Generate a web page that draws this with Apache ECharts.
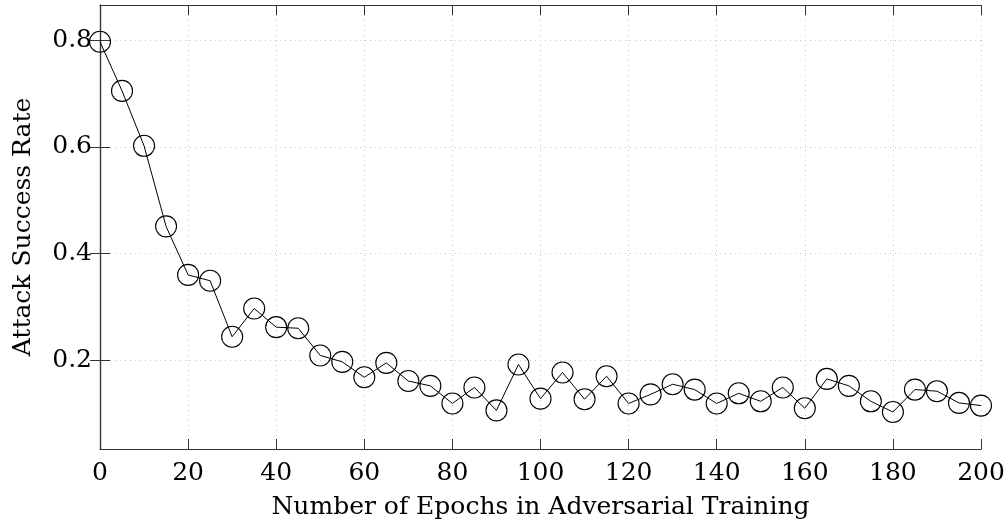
<!DOCTYPE html>
<html>
<head>
<meta charset="utf-8">
<script src="https://cdn.jsdelivr.net/npm/echarts@6/dist/echarts.min.js"></script>
<style>
  html, body { margin: 0; padding: 0; background: #fff; }
  #chart { width: 1008px; height: 522px; }
</style>
</head>
<body>
<div id="chart"></div>
<script>
// epochs of adversarial training
var epochs = [0, 5, 10, 15, 20, 25, 30, 35, 40, 45, 50, 55, 60, 65, 70, 75, 80, 85, 90, 95,
  100, 105, 110, 115, 120, 125, 130, 135, 140, 145, 150, 155, 160, 165, 170, 175, 180, 185, 190, 195, 200];
// attack success rate
var successRate = [0.797, 0.705, 0.602, 0.451, 0.360, 0.349, 0.244, 0.297, 0.262, 0.260,
  0.209, 0.197, 0.168, 0.195, 0.161, 0.152, 0.119, 0.149, 0.106, 0.192,
  0.128, 0.177, 0.127, 0.170, 0.119, 0.136, 0.155, 0.145, 0.119, 0.138,
  0.123, 0.149, 0.110, 0.165, 0.152, 0.123, 0.103, 0.145, 0.142, 0.120, 0.115];
var yTicks = [0.2, 0.4, 0.6, 0.8];

var font = 'DejaVu Serif';
var chart = echarts.init(document.getElementById('chart'));

var gridLine = { show: true, lineStyle: { color: '#c8c8c8', type: [1, 4], width: 1 } };
var tick = { show: true, inside: true, length: 10, lineStyle: { color: '#333', width: 1 } };

var option = {
  backgroundColor: '#fff',
  animation: false,
  grid: { left: 100, right: 27, top: 5, bottom: 73, containLabel: false, outerBoundsMode: 'none' },
  xAxis: [{
    type: 'value', min: 0, max: 200, interval: 20,
    name: 'Number of Epochs in Adversarial Training',
    nameLocation: 'middle', nameGap: 46,
    nameTextStyle: { fontFamily: font, fontSize: 25, color: '#000' },
    axisLine: { show: true, lineStyle: { color: '#333', width: 1.2 } },
    axisTick: tick,
    axisLabel: { fontFamily: font, fontSize: 25, color: '#000', margin: 12 },
    splitLine: gridLine
  }, {
    type: 'value', min: 0, max: 200, interval: 20, position: 'top',
    axisLine: { show: true, lineStyle: { color: '#333', width: 1.2 } },
    axisTick: tick, axisLabel: { show: false }, splitLine: { show: false }
  }],
  yAxis: [{
    type: 'value', min: 0.0336, max: 0.866,
    name: 'Attack Success Rate',
    nameLocation: 'middle', nameGap: 64,
    nameTextStyle: { fontFamily: font, fontSize: 25, color: '#000' },
    axisLine: { show: true, lineStyle: { color: '#333', width: 1.2 } },
    axisTick: { show: true, inside: true, length: 10, lineStyle: { color: '#333', width: 1 }, customValues: yTicks },
    axisLabel: { fontFamily: font, fontSize: 25, color: '#000', margin: 8, customValues: yTicks,
      formatter: function (v) { return v.toFixed(1); } },
    splitLine: gridLine
  }, {
    type: 'value', min: 0.0336, max: 0.866, position: 'right',
    axisLine: { show: true, lineStyle: { color: '#333', width: 1.2 } },
    axisTick: { show: true, inside: true, length: 10, lineStyle: { color: '#333', width: 1 }, customValues: yTicks },
    axisLabel: { show: false }, splitLine: { show: false }
  }],
  series: [{
    type: 'line',
    data: epochs.map(function (e, i) { return [e, successRate[i]]; }),
    symbol: 'circle',
    symbolSize: 21,
    lineStyle: { color: '#000', width: 1 },
    itemStyle: { color: 'transparent', borderColor: '#000', borderWidth: 1.1 }
  }]
};
chart.setOption(option);
</script>
</body>
</html>
